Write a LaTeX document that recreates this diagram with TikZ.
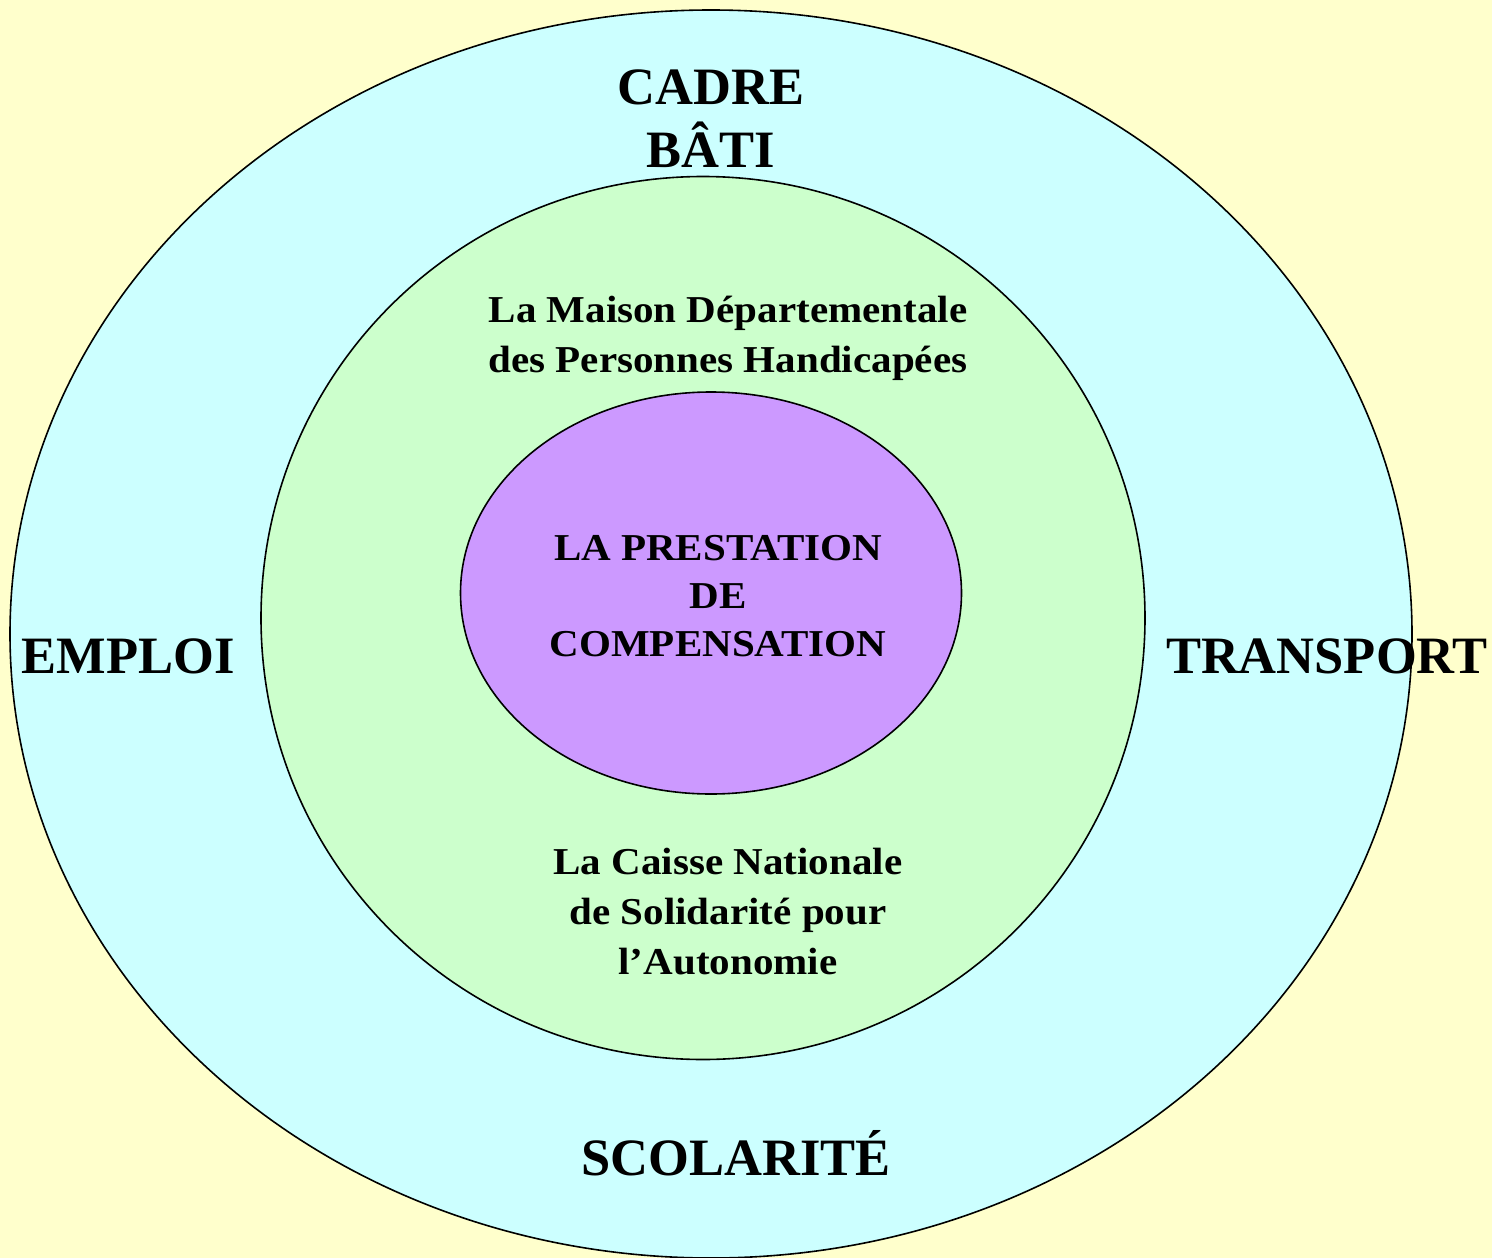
\documentclass[tikz,border=0pt]{standalone}
\usepackage{fontspec}
\setmainfont{Liberation Serif}
\newfontfamily\widefont[FakeStretch=1.08]{Liberation Serif}
\usetikzlibrary{shapes.geometric}
\definecolor{bgyellow}{HTML}{FFFFCC}
\definecolor{ringcyan}{HTML}{CCFFFF}
\definecolor{ringgreen}{HTML}{CCFFCC}
\definecolor{corepurple}{HTML}{CC99FF}
\tikzset{
  ring/.style={ellipse, draw=black, line width=1.6pt, inner sep=0pt},
  bigtxt/.style={align=center, font=\fontsize{52.5}{63}\selectfont\bfseries, inner sep=0pt},
  midtxt/.style={align=center, font=\widefont\fontsize{38}{50}\selectfont\bfseries, inner sep=0pt},
  coretxt/.style={align=center, font=\widefont\fontsize{38}{48}\selectfont\bfseries, inner sep=0pt}
}
\begin{document}
\begin{tikzpicture}[x=1pt,y=-1pt]
\useasboundingbox (0,0) rectangle (1492,1258);
\fill[bgyellow] (0,0) rectangle (1492,1258);
\node[ring, fill=ringcyan, minimum width=1402pt, minimum height=1248pt] (outer) at (711,634) {};
\node[ring, fill=ringgreen, minimum width=884pt, minimum height=883pt] (middle) at (703,618) {};
\node[ring, fill=corepurple, minimum width=501pt, minimum height=402pt] (core) at (711,593) {};
\node[bigtxt] (cadre) at (711,119) {CADRE\\BÂTI};
\node[bigtxt] (emploi) at (128,656) {EMPLOI};
\node[bigtxt] (transport) at (1327,656) {TRANSPORT};
\node[bigtxt] (scolarite) at (736,1153) {SCOLARITÉ};
\node[midtxt] (mdph) at (728,338) {La Maison Départementale\\des Personnes Handicapées};
\node[coretxt] (pc) at (718,596) {LA PRESTATION\\DE\\COMPENSATION};
\node[midtxt] (cnsa) at (728,912) {La Caisse Nationale\\de Solidarité pour\\l’Autonomie};
\end{tikzpicture}
\end{document}
